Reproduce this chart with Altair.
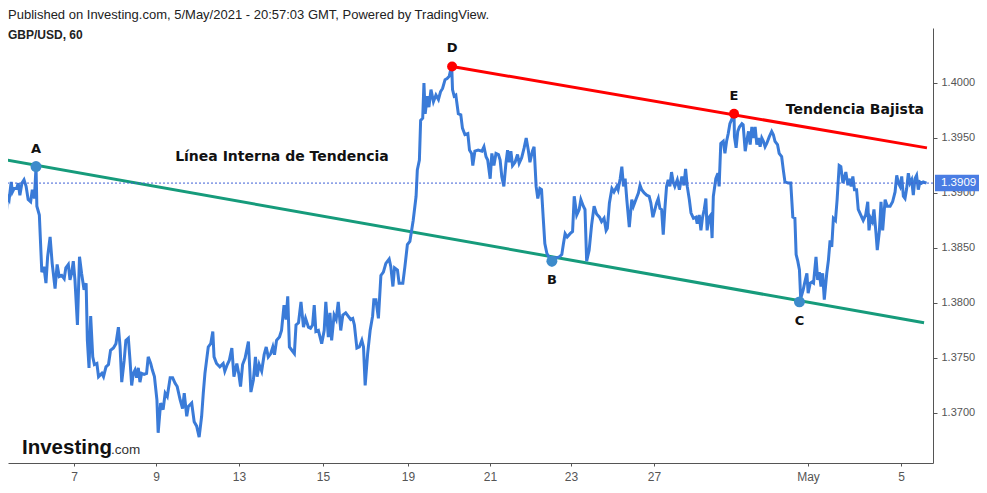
import altair as alt
import pandas as pd

# ---------------- data (t = trading days from chart start, price) ----------------
SEG_APR_05_09 = [
    (0.00, 1.3860), (0.04, 1.3855), (0.08, 1.3865), (0.12, 1.3864), (0.14, 1.3875), (0.18, 1.3897),
    (0.22, 1.3894), (0.27, 1.3910), (0.30, 1.3901), (0.34, 1.3904), (0.40, 1.3904), (0.44, 1.3909),
    (0.48, 1.3898), (0.53, 1.3909), (0.58, 1.3912), (0.63, 1.3906), (0.68, 1.3894), (0.74, 1.3892),
    (0.78, 1.3903), (0.83, 1.3895), (0.87, 1.3924), (0.89, 1.3888), (0.95, 1.3880), (0.98, 1.3854),
    (1.01, 1.3828), (1.06, 1.3833), (1.11, 1.3818), (1.15, 1.3842), (1.21, 1.3860), (1.26, 1.3836),
    (1.33, 1.3813), (1.38, 1.3835), (1.43, 1.3824), (1.49, 1.3825), (1.55, 1.3822), (1.59, 1.3832),
    (1.65, 1.3835), (1.69, 1.3821), (1.73, 1.3827), (1.77, 1.3838), (1.81, 1.3821), (1.87, 1.3780),
    (1.92, 1.3842), (1.97, 1.3827), (2.03, 1.3812), (2.08, 1.3818), (2.11, 1.3766), (2.15, 1.3741),
    (2.19, 1.3788), (2.24, 1.3751), (2.28, 1.3744), (2.34, 1.3745), (2.38, 1.3733), (2.46, 1.3736),
    (2.50, 1.3733), (2.56, 1.3742), (2.62, 1.3744), (2.67, 1.3757), (2.74, 1.3759), (2.80, 1.3763),
    (2.86, 1.3778), (2.90, 1.3760), (2.94, 1.3728), (3.00, 1.3748), (3.04, 1.3766), (3.10, 1.3768),
    (3.14, 1.3748), (3.18, 1.3725), (3.22, 1.3736), (3.26, 1.3739), (3.30, 1.3732), (3.34, 1.3741),
    (3.38, 1.3728), (3.42, 1.3736), (3.48, 1.3735), (3.54, 1.3736), (3.58, 1.3751), (3.64, 1.3745),
    (3.68, 1.3739), (3.73, 1.3733), (3.79, 1.3712), (3.82, 1.3682), (3.88, 1.3709), (3.94, 1.3703),
    (3.99, 1.3718), (4.04, 1.3715), (4.11, 1.3732), (4.17, 1.3732), (4.23, 1.3727), (4.28, 1.3724),
    (4.35, 1.3712), (4.41, 1.3704), (4.45, 1.3718), (4.51, 1.3697), (4.55, 1.3706), (4.63, 1.3709),
]
SEG_APR_12_16 = [
    (4.69, 1.3692), (4.75, 1.3688), (4.81, 1.3678), (4.87, 1.3697), (4.91, 1.3718), (4.95, 1.3736),
    (4.99, 1.3748), (5.03, 1.3760), (5.09, 1.3763), (5.14, 1.3774), (5.17, 1.3751), (5.23, 1.3745),
    (5.31, 1.3742), (5.39, 1.3745), (5.43, 1.3738), (5.49, 1.3744), (5.54, 1.3748), (5.60, 1.3759),
    (5.65, 1.3733), (5.72, 1.3745), (5.77, 1.3735), (5.81, 1.3724), (5.86, 1.3744), (5.92, 1.3750),
    (6.00, 1.3765), (6.06, 1.3719), (6.12, 1.3730), (6.17, 1.3751), (6.21, 1.3733), (6.26, 1.3744),
    (6.32, 1.3738), (6.38, 1.3753), (6.43, 1.3760), (6.48, 1.3751), (6.54, 1.3754), (6.59, 1.3760),
    (6.63, 1.3753), (6.68, 1.3766), (6.75, 1.3769), (6.80, 1.3775), (6.86, 1.3798), (6.91, 1.3785),
    (6.95, 1.3806), (6.99, 1.3760), (7.05, 1.3757), (7.11, 1.3754), (7.15, 1.3780), (7.21, 1.3782),
    (7.27, 1.3801), (7.33, 1.3778), (7.38, 1.3786), (7.45, 1.3778), (7.50, 1.3777), (7.55, 1.3780),
    (7.59, 1.3798), (7.63, 1.3774), (7.69, 1.3775), (7.77, 1.3763), (7.83, 1.3775), (7.87, 1.3801),
    (7.93, 1.3769), (7.97, 1.3791), (8.01, 1.3766), (8.07, 1.3789), (8.12, 1.3785), (8.17, 1.3801),
    (8.23, 1.3775), (8.28, 1.3789), (8.35, 1.3791), (8.41, 1.3788), (8.47, 1.3785), (8.52, 1.3786),
    (8.56, 1.3780), (8.62, 1.3759), (8.68, 1.3760), (8.74, 1.3766), (8.78, 1.3760), (8.82, 1.3725),
    (8.88, 1.3754), (8.94, 1.3775), (9.00, 1.3788), (9.03, 1.3803), (9.08, 1.3803), (9.14, 1.3786),
    (9.20, 1.3825), (9.26, 1.3828), (9.32, 1.3836), (9.40, 1.3840), (9.44, 1.3833), (9.49, 1.3815),
    (9.53, 1.3832), (9.60, 1.3830), (9.64, 1.3818), (9.73, 1.3818), (9.78, 1.3833),
]
SEG_APR_19_23 = [
    (9.84, 1.3853), (9.90, 1.3856), (9.98, 1.3875), (10.05, 1.3897), (10.08, 1.3921), (10.13, 1.3930),
    (10.16, 1.3966), (10.21, 1.3968), (10.24, 1.4000), (10.27, 1.3972), (10.32, 1.3988), (10.36, 1.3978),
    (10.41, 1.3994), (10.47, 1.3983), (10.53, 1.3989), (10.59, 1.3985), (10.64, 1.3992), (10.69, 1.3995),
    (10.75, 1.4003), (10.80, 1.4004), (10.85, 1.4006), (10.91, 1.4016), (10.93, 1.3994), (10.97, 1.3988),
    (11.01, 1.3989), (11.07, 1.3972), (11.13, 1.3971), (11.17, 1.3959), (11.23, 1.3953), (11.30, 1.3954),
    (11.34, 1.3939), (11.39, 1.3936), (11.42, 1.3925), (11.47, 1.3938), (11.55, 1.3939), (11.64, 1.3938),
    (11.69, 1.3942), (11.74, 1.3933), (11.78, 1.3930), (11.84, 1.3913), (11.88, 1.3936), (11.93, 1.3925),
    (11.98, 1.3936), (12.04, 1.3935), (12.08, 1.3930), (12.12, 1.3915), (12.17, 1.3906), (12.22, 1.3927),
    (12.26, 1.3939), (12.30, 1.3928), (12.34, 1.3938), (12.38, 1.3925), (12.44, 1.3928), (12.50, 1.3935),
    (12.54, 1.3927), (12.60, 1.3932), (12.66, 1.3941), (12.71, 1.3950), (12.76, 1.3939), (12.80, 1.3928),
    (12.86, 1.3938), (12.90, 1.3942), (12.95, 1.3906), (12.99, 1.3895), (13.04, 1.3904), (13.08, 1.3903),
    (13.12, 1.3878), (13.16, 1.3854), (13.21, 1.3845), (13.27, 1.3841), (13.33, 1.3836), (13.38, 1.3841),
    (13.45, 1.3841), (13.51, 1.3842), (13.57, 1.3844), (13.61, 1.3854), (13.65, 1.3863), (13.70, 1.3860),
    (13.77, 1.3863), (13.83, 1.3865), (13.87, 1.3897), (13.93, 1.3880), (13.99, 1.3885), (14.03, 1.3894),
    (14.09, 1.3888), (14.13, 1.3885), (14.17, 1.3838), (14.23, 1.3848),
]
SEG_APR_26_30 = [
    (14.29, 1.3871), (14.35, 1.3888), (14.41, 1.3881), (14.48, 1.3878), (14.53, 1.3874), (14.59, 1.3877),
    (14.64, 1.3866), (14.67, 1.3868), (14.72, 1.3891), (14.78, 1.3904), (14.83, 1.3901), (14.90, 1.3906),
    (14.93, 1.3903), (14.98, 1.3913), (15.02, 1.3924), (15.06, 1.3906), (15.10, 1.3913), (15.14, 1.3894),
    (15.20, 1.3869), (15.26, 1.3894), (15.30, 1.3888), (15.36, 1.3894), (15.42, 1.3900), (15.46, 1.3907),
    (15.50, 1.3903), (15.56, 1.3900), (15.62, 1.3898), (15.68, 1.3897), (15.72, 1.3891), (15.77, 1.3878),
    (15.82, 1.3885), (15.86, 1.3891), (15.90, 1.3895), (15.94, 1.3886), (15.98, 1.3885), (16.02, 1.3862),
    (16.06, 1.3886), (16.10, 1.3906), (16.14, 1.3912), (16.18, 1.3906), (16.22, 1.3919), (16.26, 1.3910),
    (16.30, 1.3906), (16.36, 1.3912), (16.41, 1.3903), (16.47, 1.3915), (16.52, 1.3907), (16.56, 1.3922),
    (16.60, 1.3906), (16.65, 1.3894), (16.69, 1.3882), (16.75, 1.3877), (16.81, 1.3878), (16.84, 1.3872),
    (16.89, 1.3880), (16.93, 1.3866), (16.97, 1.3878), (17.01, 1.3885), (17.05, 1.3895), (17.08, 1.3866),
    (17.13, 1.3878), (17.17, 1.3880), (17.20, 1.3859), (17.23, 1.3897), (17.29, 1.3913), (17.34, 1.3918),
    (17.37, 1.3906), (17.41, 1.3945), (17.47, 1.3947), (17.51, 1.3936), (17.55, 1.3947), (17.59, 1.3954),
    (17.63, 1.3963), (17.70, 1.3969), (17.73, 1.3972), (17.74, 1.3951), (17.78, 1.3941), (17.82, 1.3956),
    (17.86, 1.3960), (17.92, 1.3963), (17.95, 1.3962), (18.00, 1.3938), (18.04, 1.3948), (18.08, 1.3956),
    (18.12, 1.3944), (18.16, 1.3960), (18.20, 1.3950), (18.24, 1.3960), (18.28, 1.3944), (18.32, 1.3950),
    (18.36, 1.3942), (18.40, 1.3950), (18.44, 1.3947), (18.48, 1.3942), (18.52, 1.3945), (18.58, 1.3951),
    (18.64, 1.3956), (18.68, 1.3953), (18.72, 1.3947), (18.78, 1.3944), (18.82, 1.3936), (18.88, 1.3933),
    (18.92, 1.3921),
]
SEG_MAY_03_05 = [
    (18.96, 1.3910), (19.04, 1.3909), (19.10, 1.3909), (19.15, 1.3878), (19.20, 1.3877), (19.23, 1.3844),
    (19.27, 1.3838), (19.31, 1.3830), (19.34, 1.3804), (19.40, 1.3812), (19.44, 1.3819), (19.49, 1.3827),
    (19.52, 1.3809), (19.57, 1.3818), (19.61, 1.3819), (19.65, 1.3818), (19.71, 1.3842), (19.75, 1.3821),
    (19.79, 1.3828), (19.83, 1.3815), (19.87, 1.3827), (19.91, 1.3803), (19.97, 1.3827), (20.01, 1.3839),
    (20.05, 1.3857), (20.09, 1.3851), (20.13, 1.3877), (20.18, 1.3875), (20.22, 1.3894), (20.27, 1.3925),
    (20.31, 1.3924), (20.36, 1.3909), (20.39, 1.3913), (20.43, 1.3919), (20.48, 1.3907), (20.51, 1.3913),
    (20.56, 1.3906), (20.60, 1.3915), (20.64, 1.3903), (20.69, 1.3903), (20.73, 1.3885), (20.79, 1.3880),
    (20.85, 1.3875), (20.91, 1.3880), (20.96, 1.3892), (20.99, 1.3866), (21.03, 1.3877), (21.07, 1.3874),
    (21.11, 1.3885), (21.16, 1.3863), (21.19, 1.3848), (21.24, 1.3865), (21.28, 1.3892), (21.32, 1.3866),
    (21.38, 1.3894), (21.43, 1.3888), (21.50, 1.3888), (21.56, 1.3892), (21.62, 1.3901), (21.66, 1.3916),
    (21.70, 1.3909), (21.74, 1.3906), (21.78, 1.3915), (21.82, 1.3897), (21.86, 1.3895), (21.90, 1.3904),
    (21.94, 1.3918), (21.98, 1.3909), (22.02, 1.3912), (22.06, 1.3898), (22.10, 1.3913), (22.14, 1.3916),
    (22.18, 1.3903), (22.22, 1.3910), (22.26, 1.3909), (22.30, 1.3910), (22.38, 1.3909),
]

# trend lines
GREEN_T = [0.00, 22.32]
GREEN_P = [1.3931, 1.3782]
RED_T = [10.92, 22.39]
RED_P = [1.4015, 1.3941]

# marked points
BLUE_LABELS = ["A", "B", "C"]
BLUE_T = [0.87, 13.33, 19.31]
BLUE_P = [1.3924, 1.3838, 1.3801]
RED_LABELS = ["D", "E"]
RED_PT_T = [10.92, 17.73]
RED_PT_P = [1.4015, 1.3972]

# annotations
NOTE_TEXT = ["Línea Interna de Tendencia", "Tendencia Bajista"]
NOTE_T = [6.81, 20.65]
NOTE_P = [1.3933, 1.39755]

# axes
TICK_T = [1.787, 3.768, 5.773, 7.802, 9.855, 11.836, 13.792, 15.797, 19.517, 21.763]
TICK_LABELS = ["7", "9", "13", "15", "19", "21", "23", "27", "May", "5"]
Y_TICKS = [1.370, 1.375, 1.380, 1.385, 1.390, 1.395, 1.400]
X_DOMAIN = [0.193, 22.536]
Y_DOMAIN = [1.36545, 1.4050]
LAST_PRICE = 1.3909

HEADER = "Published on Investing.com, 5/May/2021 - 20:57:03 GMT, Powered by TradingView."
SYMBOL = "GBP/USD, 60"

# ---------------- build ----------------
rows = []
for seg in [SEG_APR_05_09, SEG_APR_12_16, SEG_APR_19_23, SEG_APR_26_30, SEG_MAY_03_05]:
    rows.extend(seg)
price_df = pd.DataFrame(rows, columns=["t", "price"])
green_df = pd.DataFrame({"t": GREEN_T, "price": GREEN_P})
red_df = pd.DataFrame({"t": RED_T, "price": RED_P})
blue_pts = pd.DataFrame({"t": BLUE_T, "price": BLUE_P, "label": BLUE_LABELS})
red_pts = pd.DataFrame({"t": RED_PT_T, "price": RED_PT_P, "label": RED_LABELS})
notes_df = pd.DataFrame({"t": NOTE_T, "price": NOTE_P, "label": NOTE_TEXT})
last_df = pd.DataFrame({"price": [LAST_PRICE], "label": [f"{LAST_PRICE:.4f}"]})

label_expr = f"{TICK_LABELS}[indexof({TICK_T}, datum.value)]"

xs = alt.Scale(domain=X_DOMAIN, nice=False, zero=False)
ys = alt.Scale(domain=Y_DOMAIN, nice=False, zero=False)

x_axis = alt.Axis(values=TICK_T, labelExpr=label_expr, grid=False,
                  domainColor="#555555", tickColor="#555555", tickSize=3,
                  labelPadding=5, labelColor="#555555", labelFontSize=12,
                  labelFont="Liberation Sans Narrow, Arial Narrow, Liberation Sans",
                  labelFlush=False, labelOverlap=False)
y_axis = alt.Axis(orient="right", values=Y_TICKS, format=".4f", grid=False,
                  domainColor="#555555", tickColor="#555555", tickSize=4,
                  labelPadding=4, labelColor="#555555", labelFontSize=11,
                  labelFont="Liberation Sans, Arial", labelFlush=False,
                  labelOverlap=False)


def X():
    return alt.X("t:Q", scale=xs, title=None, axis=x_axis)


def Y():
    return alt.Y("price:Q", scale=ys, title=None, axis=y_axis)


price_line = alt.Chart(price_df).mark_line(color="#3a7bd8", strokeWidth=3, clip=True).encode(x=X(), y=Y())

last_rule = alt.Chart(last_df).mark_rule(color="#3d5fd6", strokeDash=[2, 2], strokeWidth=1).encode(y=Y())

green_line = alt.Chart(green_df).mark_line(color="#169b7b", strokeWidth=3, clip=True).encode(x=X(), y=Y())
red_line = alt.Chart(red_df).mark_line(color="#ff0000", strokeWidth=3, clip=True).encode(x=X(), y=Y())

blue_dots = alt.Chart(blue_pts).mark_circle(size=120, color="#3c8bcb", opacity=1).encode(x=X(), y=Y())
red_dots = alt.Chart(red_pts).mark_circle(size=100, color="#ff0000", opacity=1).encode(x=X(), y=Y())

lbl_font = "DejaVu Sans, Verdana"
top_lbl_df = pd.concat([blue_pts[blue_pts.label == "A"], red_pts])
bot_lbl_df = blue_pts[blue_pts.label != "A"]
top_labels = alt.Chart(top_lbl_df).mark_text(font=lbl_font, fontWeight="bold", fontSize=13, color="#111111",
                                             dy=-18, baseline="middle").encode(x=X(), y=Y(), text="label:N")
bot_labels = alt.Chart(bot_lbl_df).mark_text(font=lbl_font, fontWeight="bold", fontSize=13, color="#111111",
                                             dy=19, baseline="middle").encode(x=X(), y=Y(), text="label:N")
notes = alt.Chart(notes_df).mark_text(font=lbl_font, fontWeight="bold", fontSize=14, color="#111111",
                                      baseline="middle").encode(x=X(), y=Y(), text="label:N")

header = alt.Chart(pd.DataFrame({"label": [HEADER]})).mark_text(
    align="left", baseline="middle", font="Liberation Sans, Arial", fontSize=13, color="#222222"
).encode(x=alt.value(0), y=alt.value(-13), text="label:N")
symbol = alt.Chart(pd.DataFrame({"label": [SYMBOL]})).mark_text(
    align="left", baseline="middle", font="Liberation Sans, Arial", fontSize=12, fontWeight="bold", color="#222222"
).encode(x=alt.value(0), y=alt.value(7), text="label:N")

logo1 = alt.Chart(pd.DataFrame({"label": ["Investing"]})).mark_text(
    align="left", baseline="alphabetic", font="Liberation Sans, Arial", fontSize=20.5, fontWeight="bold", color="#111111"
).encode(x=alt.value(14), y=alt.value(426), text="label:N")
logo2 = alt.Chart(pd.DataFrame({"label": [".com"]})).mark_text(
    align="left", baseline="alphabetic", font="Liberation Sans, Arial", fontSize=13.5, color="#333333"
).encode(x=alt.value(103), y=alt.value(426), text="label:N")

last_box = alt.Chart(last_df).mark_rect(color="#4a7de3").encode(
    x=alt.value(927), x2=alt.value(975),
    y=alt.datum(LAST_PRICE + 0.00075, scale=ys, axis=y_axis, title=None), y2=alt.datum(LAST_PRICE - 0.00075))
last_text = alt.Chart(last_df).mark_text(
    align="left", baseline="middle", font="Liberation Sans, Arial", fontSize=11.5, color="#ffffff"
).encode(x=alt.value(933), y=Y(), text="label:N")

chart = alt.layer(
    green_line, red_line, price_line, last_rule, blue_dots, red_dots,
    top_labels, bot_labels, notes, header, symbol, logo1, logo2, last_box, last_text
).properties(
    width=925, height=435,
    autosize=alt.AutoSizeParams(type="none"),
    padding={"left": 0, "top": 20, "right": 46, "bottom": 22},
    background="#ffffff",
).configure_view(stroke=None)

chart.save("out.html", embed_options={"renderer": "svg", "actions": False})
